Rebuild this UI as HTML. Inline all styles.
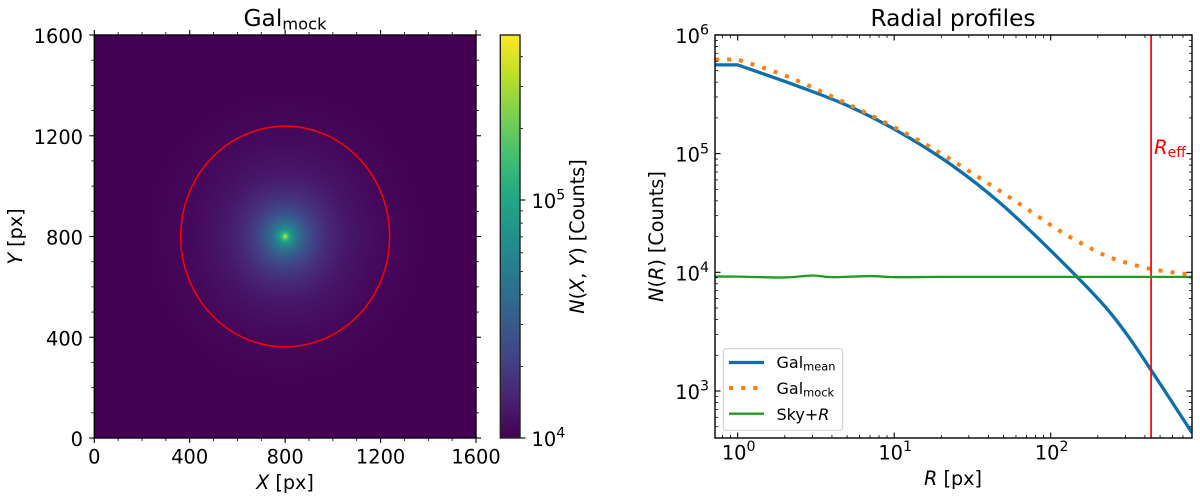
<!DOCTYPE html>
<html lang="en">
<head>
<meta charset="utf-8">
<title>Galaxy mock and radial profiles</title>
<style>
html,body{margin:0;padding:0;background:#fff;}
#stage{position:relative;width:1200px;height:501px;overflow:hidden;background:#fff;}
canvas{position:absolute;display:block;}
svg{position:absolute;left:0;top:0;}
text{font-family:"DejaVu Sans","Liberation Sans",sans-serif;fill:#000;}
</style>
</head>
<body>
<div id="stage">
<canvas id="heat" width="382" height="403" style="left:94px;top:35px"></canvas>
<canvas id="cbar" width="20" height="403" style="left:500px;top:35px"></canvas>
<svg id="chart" width="1200" height="501" viewBox="0 0 1200 501">
  <defs>
    <clipPath id="clipR"><rect x="715" y="35" width="477" height="403"/></clipPath>
    <clipPath id="clipL"><rect x="94" y="35" width="382" height="403"/></clipPath>
  </defs>
  <g id="leftTicks"></g>
  <g id="cbarTicks"></g>
  <g id="rightSeries" clip-path="url(#clipR)"></g>
  <g id="rightTicks"></g>
  <ellipse id="reffCircle" fill="none" stroke="#ff0000" stroke-width="1.5" clip-path="url(#clipL)"/>

  <rect x="94.3" y="35" width="381.7" height="403" fill="none" stroke="#000" stroke-width="1.4"/>
  <rect x="500.3" y="35" width="19.7" height="403" fill="none" stroke="#222" stroke-width="1.4"/>
  <rect x="715" y="35" width="477" height="403" fill="none" stroke="#000" stroke-width="1.4"/>

  <text x="285" y="26" text-anchor="middle" font-size="23.3">Gal<tspan font-size="16.3" dy="3.5">mock</tspan></text>
  <text x="953" y="26" text-anchor="middle" font-size="23.3">Radial profiles</text>

  <text x="285" y="489" text-anchor="middle" font-size="19.2"><tspan font-style="italic">X</tspan> [px]</text>
  <text transform="translate(22,236.5) rotate(-90)" text-anchor="middle" font-size="19.2"><tspan font-style="italic">Y</tspan> [px]</text>
  <text transform="translate(584,236.5) rotate(-90)" text-anchor="middle" font-size="19.2"><tspan font-style="italic">N</tspan>(<tspan font-style="italic">X</tspan>, <tspan font-style="italic">Y</tspan>) [Counts]</text>
  <text x="953" y="485" text-anchor="middle" font-size="19.2"><tspan font-style="italic">R</tspan> [px]</text>
  <text transform="translate(663,236.5) rotate(-90)" text-anchor="middle" font-size="19.2"><tspan font-style="italic">N</tspan>(<tspan font-style="italic">R</tspan>) [Counts]</text>

  <text id="reffLabel" x="1154" y="154" font-size="19.6" style="fill:#ff0000"><tspan font-style="italic" style="fill:#ff0000">R</tspan><tspan font-size="14" dy="3" style="fill:#ff0000">eff</tspan></text>

  <g>
    <rect x="723.3" y="348.7" width="119.4" height="81.6" rx="3" fill="#fff" fill-opacity="0.8" stroke="#ccc" stroke-width="1"/>
    <line x1="729" x2="764" y1="362.5" y2="362.5" stroke="#0c6fae" stroke-width="3.3"/>
    <line x1="729" x2="764" y1="388" y2="388" stroke="#ff7f0e" stroke-width="4" stroke-dasharray="4 8.1"/>
    <line x1="729" x2="764" y1="413.7" y2="413.7" stroke="#1f9b22" stroke-width="2.3"/>
    <text x="776.5" y="368" font-size="16">Gal<tspan font-size="11.4" dy="2.5">mean</tspan></text>
    <text x="776.5" y="394" font-size="16">Gal<tspan font-size="11.4" dy="2.5">mock</tspan></text>
    <text x="776.5" y="420" font-size="16">Sky+<tspan font-style="italic">R</tspan></text>
  </g>
</svg>
</div>
<script>
/* ---- data ---- */
const meanRadius = [0.716, 1, 2.5, 5.22, 10.89, 22.72, 47.43, 98.97, 206.5, 298.4, 431, 800];
const meanCounts = [5.59e5, 5.59e5, 3.647e5, 2.484e5, 1.509e5, 8.19e4, 3.844e4, 1.544e4, 5.74e3, 3.147e3, 1.55e3, 444];
const mockRadius = [0.716, 1, 1.96, 3.74, 7, 13, 20.6, 32, 49.8, 77.4, 119, 189, 257, 431, 721, 800];
const mockCounts = [6.2e5, 6.2e5, 4.6e5, 3.16e5, 2.12e5, 1.39e5, 9.75e4, 6.75e4, 4.64e4, 3.15e4, 2.16e4, 1.54e4, 1.29e4, 1.07e4, 9.7e3, 9.6e3];
const skyRadius = [0.716, 1, 2, 3, 4, 7, 10, 20, 50, 100, 200, 400, 800];
const skyCounts = [9.2e3, 9.2e3, 9.05e3, 9.4e3, 9.1e3, 9.3e3, 9.1e3, 9.15e3, 9.15e3, 9.15e3, 9.15e3, 9.15e3, 9.15e3];
const effectiveRadius = [438];
const imageTicksMajor = [0, 400, 800, 1200, 1600];
const imageTicksMinor = [100, 200, 300, 500, 600, 700, 900, 1000, 1100, 1300, 1400, 1500];
const colorbarLimits = [1e4, 4.9e5];
const colorbarMajor = [1e4, 1e5];
const colorbarMajorExp = ["4", "5"];
const colorbarMinor = [2e4, 3e4, 4e4, 5e4, 6e4, 7e4, 8e4, 9e4, 2e5, 3e5, 4e5];
const profileXMajor = [1, 10, 100];
const profileXExp = ["0", "1", "2"];
const profileXMinor = [0.8, 0.9, 2, 3, 4, 5, 6, 7, 8, 9, 20, 30, 40, 50, 60, 70, 80, 90, 200, 300, 400, 500, 600, 700, 800];
const profileYMajor = [1e3, 1e4, 1e5, 1e6];
const profileYExp = ["3", "4", "5", "6"];
const profileYMinor = [500, 600, 700, 800, 900, 2e3, 3e3, 4e3, 5e3, 6e3, 7e3, 8e3, 9e3, 2e4, 3e4, 4e4, 5e4, 6e4, 7e4, 8e4, 9e4, 2e5, 3e5, 4e5, 5e5, 6e5, 7e5, 8e5, 9e5];
const viridisStops = ["#440154", "#482475", "#414487", "#355f8d", "#2a788e", "#21918c", "#22a884", "#44bf70", "#7ad151", "#bddf26", "#fde725"];

/* ---- axis functions ---- */
const SVGNS = "http://www.w3.org/2000/svg";
function imgX(v) { return 94.3 + v / 1600 * 381.7; }
function imgY(v) { return 438 - v / 1600 * 403; }
function cbY(v) { return 438 - Math.log10(v / 1e4) * 238; }
function profX(v) { return 737.7 + Math.log10(v) * 156.5; }
function profY(v) { return 391 - (Math.log10(v) - 3) * 118.7; }

function line(parent, x1, y1, x2, y2, w) {
  const el = document.createElementNS(SVGNS, "line");
  el.setAttribute("x1", x1);
  el.setAttribute("y1", y1);
  el.setAttribute("x2", x2);
  el.setAttribute("y2", y2);
  el.setAttribute("stroke", "#000");
  el.setAttribute("stroke-width", w);
  parent.appendChild(el);
  return el;
}
function label(parent, x, y, anchor, str, sup) {
  const el = document.createElementNS(SVGNS, "text");
  el.setAttribute("x", x);
  el.setAttribute("y", y);
  el.setAttribute("text-anchor", anchor);
  el.setAttribute("font-size", "19.4");
  el.textContent = str;
  if (sup) {
    const t = document.createElementNS(SVGNS, "tspan");
    t.setAttribute("font-size", "14.2");
    t.setAttribute("dy", "-8.3");
    t.textContent = sup;
    el.appendChild(t);
  }
  parent.appendChild(el);
  return el;
}

/* ---- image panel ticks ---- */
const lt = document.getElementById("leftTicks");
imageTicksMajor.forEach(function (v) {
  const x = imgX(v), y = imgY(v);
  let el = line(lt, x, 438, x, 443, 1.1);
  
  
  el = line(lt, x, 35, x, 30, 1.1);
  
  
  el = line(lt, 94.3, y, 89.3, y, 1.1);
  
  
  el = line(lt, 476, y, 481, y, 1.1);
  
  
  el = label(lt, x, 463.5, "middle", String(v));
  
  
  el = label(lt, 83, y + 8, "end", String(v));
  
  
});
imageTicksMinor.forEach(function (v) {
  const x = imgX(v), y = imgY(v);
  let el = line(lt, x, 438, x, 441, 0.8);
  
  
  el = line(lt, x, 35, x, 32, 0.8);
  
  
  el = line(lt, 94.3, y, 91.3, y, 0.8);
  
  
  el = line(lt, 476, y, 479, y, 0.8);
  
  
});

/* ---- colorbar ticks ---- */
const ct = document.getElementById("cbarTicks");
colorbarMajor.forEach(function (v, i) {
  const y = cbY(v);
  let el = line(ct, 520, y, 525.5, y, 1.1);
  
  
  el = label(ct, 531.5, y + 8, "start", "10", colorbarMajorExp[i]);
  
  
});
colorbarMinor.forEach(function (v) {
  const y = cbY(v);
  const el = line(ct, 520, y, 523, y, 0.8);
  
  
});

/* ---- profile panel ticks (inward) ---- */
const rt = document.getElementById("rightTicks");
profileXMajor.forEach(function (v, i) {
  const x = profX(v);
  let el = line(rt, x, 438, x, 432.5, 1.1);
  
  
  el = line(rt, x, 35, x, 40.5, 1.1);
  
  
  el = label(rt, x + 1, 459.5, "middle", "10", profileXExp[i]);
  
  
});
profileXMinor.forEach(function (v) {
  const x = profX(v);
  let el = line(rt, x, 438, x, 435, 0.8);
  
  
  el = line(rt, x, 35, x, 38, 0.8);
  
  
});
profileYMajor.forEach(function (v, i) {
  const y = profY(v);
  let el = line(rt, 715, y, 720.5, y, 1.1);
  
  
  el = line(rt, 1192, y, 1186.5, y, 1.1);
  
  
  el = label(rt, 709, y + 8, "end", "10", profileYExp[i]);
  
  
});
profileYMinor.forEach(function (v) {
  const y = profY(v);
  let el = line(rt, 715, y, 718, y, 0.8);
  
  
  el = line(rt, 1192, y, 1189, y, 0.8);
  
  
});

/* ---- profile series: straight up to the R=1 plateau, smooth after ---- */
function pathFrom(rs, ns, smoothFrom) {
  const pts = rs.map(function (r, i) { return [profX(r), profY(ns[i])]; });
  const n = pts.length;
  let d = "M" + pts[0][0].toFixed(2) + " " + pts[0][1].toFixed(2);
  for (let j = 0; j < n - 1; j++) {
    const p1 = pts[j], p2 = pts[j + 1];
    if (j < smoothFrom) {
      d += " L" + p2[0].toFixed(2) + " " + p2[1].toFixed(2);
    } else {
      const p0 = pts[Math.max(j - 1, smoothFrom)];
      const p3 = pts[Math.min(j + 2, n - 1)];
      const c1x = p1[0] + (p2[0] - p0[0]) / 6, c1y = p1[1] + (p2[1] - p0[1]) / 6;
      const c2x = p2[0] - (p3[0] - p1[0]) / 6, c2y = p2[1] - (p3[1] - p1[1]) / 6;
      d += " C" + c1x.toFixed(2) + " " + c1y.toFixed(2) + " " + c2x.toFixed(2) + " " + c2y.toFixed(2) + " " + p2[0].toFixed(2) + " " + p2[1].toFixed(2);
    }
  }
  return d;
}
const series = document.getElementById("rightSeries");

const meanPath = document.createElementNS(SVGNS, "path");
meanPath.setAttribute("d", pathFrom(meanRadius, meanCounts, 1));
meanPath.setAttribute("fill", "none");
meanPath.setAttribute("stroke", "#0c6fae");
meanPath.setAttribute("stroke-width", "3.3");


series.appendChild(meanPath);

const mockPath = document.createElementNS(SVGNS, "path");
mockPath.setAttribute("d", pathFrom(mockRadius, mockCounts, 1));
mockPath.setAttribute("fill", "none");
mockPath.setAttribute("stroke", "#ff7f0e");
mockPath.setAttribute("stroke-width", "4");
mockPath.setAttribute("stroke-dasharray", "4 8.1");


series.appendChild(mockPath);

const reffLine = document.createElementNS(SVGNS, "line");
reffLine.setAttribute("x1", profX(effectiveRadius[0]));
reffLine.setAttribute("x2", profX(effectiveRadius[0]));
reffLine.setAttribute("y1", 35);
reffLine.setAttribute("y2", 438);
reffLine.setAttribute("stroke", "#ff0000");
reffLine.setAttribute("stroke-width", "1.7");


series.appendChild(reffLine);

const skyPath = document.createElementNS(SVGNS, "path");
skyPath.setAttribute("d", pathFrom(skyRadius, skyCounts, 0));
skyPath.setAttribute("fill", "none");
skyPath.setAttribute("stroke", "#1f9b22");
skyPath.setAttribute("stroke-width", "2.3");


series.appendChild(skyPath);

/* ---- effective-radius circle on the image ---- */
const circle = document.getElementById("reffCircle");
circle.setAttribute("cx", imgX(800));
circle.setAttribute("cy", imgY(800));
circle.setAttribute("rx", imgX(800 + effectiveRadius[0]) - imgX(800));
circle.setAttribute("ry", imgY(800) - imgY(800 + effectiveRadius[0]));

/* ---- colour mapping ---- */
const stopRGB = viridisStops.map(function (h) {
  return [parseInt(h.slice(1, 3), 16), parseInt(h.slice(3, 5), 16), parseInt(h.slice(5, 7), 16)];
});
function viridis(t) {
  t = Math.max(0, Math.min(1, t)) * (stopRGB.length - 1);
  const i = Math.min(stopRGB.length - 2, Math.floor(t));
  const f = t - i;
  return [0, 1, 2].map(function (c) { return stopRGB[i][c] + (stopRGB[i + 1][c] - stopRGB[i][c]) * f; });
}
function norm(v) {
  return Math.log10(v / colorbarLimits[0]) / Math.log10(colorbarLimits[1] / colorbarLimits[0]);
}
function mockAt(r) {
  r = Math.max(mockRadius[0], Math.min(mockRadius[mockRadius.length - 1], r));
  let i = 0;
  while (i < mockRadius.length - 2 && mockRadius[i + 1] < r) i++;
  const f = Math.log(r / mockRadius[i]) / Math.log(mockRadius[i + 1] / mockRadius[i]);
  return Math.exp(Math.log(mockCounts[i]) + f * Math.log(mockCounts[i + 1] / mockCounts[i]));
}

/* ---- heatmap, computed from the mock profile ---- */
const hc = document.getElementById("heat").getContext("2d");
const hd = hc.createImageData(382, 403);
for (let py = 0; py < 403; py++) {
  for (let px = 0; px < 382; px++) {
    const X = (px + 94 + 0.5 - imgX(0)) / 381.7 * 1600;
    const Y = (438 - (py + 35 + 0.5)) / 403 * 1600;
    const col = viridis(norm(mockAt(Math.hypot(X - 800, Y - 800))));
    const k = (py * 382 + px) * 4;
    hd.data[k] = col[0];
    hd.data[k + 1] = col[1];
    hd.data[k + 2] = col[2];
    hd.data[k + 3] = 255;
  }
}
hc.putImageData(hd, 0, 0);

/* ---- colorbar gradient ---- */
const cc = document.getElementById("cbar").getContext("2d");
for (let py = 0; py < 403; py++) {
  const col = viridis(1 - (py + 0.5) / 403);
  cc.fillStyle = "rgb(" + col.map(Math.round).join(",") + ")";
  cc.fillRect(0, py, 20, 1);
}
</script>
</body>
</html>
